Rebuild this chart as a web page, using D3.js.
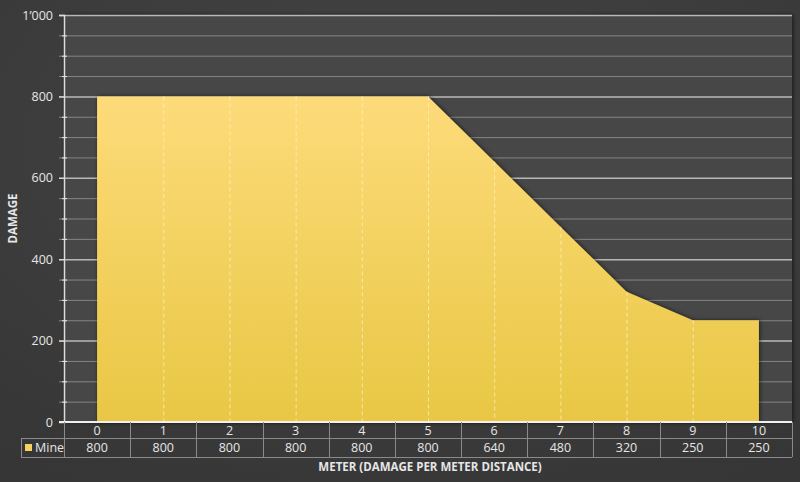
<!DOCTYPE html>
<html>
<head>
<meta charset="utf-8">
<script src="https://cdn.jsdelivr.net/npm/d3@7"></script>
<style>
body { margin: 0; background: #3c3c3c; }
svg text { font-family: "Open Sans", "Noto Sans", sans-serif; fill: #e6e6e6; }
</style>
</head>
<body>
<svg id="chart" width="800" height="482"></svg>
<script>
// chart data
var meters = ["0", "1", "2", "3", "4", "5", "6", "7", "8", "9", "10"];
var damage = [800, 800, 800, 800, 800, 800, 640, 480, 320, 250, 250];
var seriesName = "Mine";
var yTicks = [0, 200, 400, 600, 800, 1000];

var W = 800, H = 482;
var margin = { left: 64, right: 8, top: 15, bottom: 60 };
var svg = d3.select("#chart");
var defs = svg.append("defs");

// background
var bg = defs.append("radialGradient").attr("id", "bg").attr("cx", "50%").attr("cy", "30%").attr("r", "80%");
bg.append("stop").attr("offset", "0%").attr("stop-color", "#454545");
bg.append("stop").attr("offset", "100%").attr("stop-color", "#363636");
svg.append("rect").attr("width", W).attr("height", H).attr("fill", "url(#bg)");

var fillGrad = defs.append("linearGradient").attr("id", "areaFill").attr("x1", 0).attr("y1", 0).attr("x2", 0).attr("y2", 1);
fillGrad.append("stop").attr("offset", "0%").attr("stop-color", "#fddb7a");
fillGrad.append("stop").attr("offset", "100%").attr("stop-color", "#e9c744");

var shadow = defs.append("filter").attr("id", "shadow").attr("x", "-5%").attr("y", "-5%").attr("width", "110%").attr("height", "110%");
shadow.append("feDropShadow").attr("dx", 1).attr("dy", 0).attr("stdDeviation", 2)
	.attr("flood-color", "#000").attr("flood-opacity", 0.6);

var x = d3.scaleBand().domain(meters).range([margin.left, W - margin.right]);
var y = d3.scaleLinear().domain([0, 1000]).range([H - margin.bottom, margin.top]);
var xc = function(d) { return x(d) + x.bandwidth() / 2; };

// plot area
svg.append("rect").attr("x", margin.left).attr("y", margin.top)
	.attr("width", W - margin.right - margin.left).attr("height", y(0) - margin.top)
	.attr("fill", "#474747").attr("filter", "url(#shadow)");

// gridlines, minor every 50 and major every 200
var minor = d3.range(50, 1001, 50);
svg.append("g").selectAll("line").data(minor).join("line")
	.attr("x1", margin.left - 5).attr("x2", W - margin.right)
	.attr("y1", function(d) { return y(d) + 0.5; }).attr("y2", function(d) { return y(d) + 0.5; })
	.attr("stroke", function(d) { return d % 200 === 0 ? "#b8b8b8" : "#858585"; })
	.attr("stroke-width", function(d) { return d % 200 === 0 ? 1.5 : 1; });

// area
var area = d3.area().x(function(d, i) { return xc(meters[i]); })
	.y0(y(0)).y1(function(d) { return y(d); });
svg.append("path").datum(damage).attr("d", area)
	.attr("fill", "url(#areaFill)").attr("filter", "url(#shadow)");

// dashed drop lines inside area
svg.append("g").selectAll("line").data(meters.slice(1, -1)).join("line")
	.attr("x1", function(d) { return xc(d) + 0.5; }).attr("x2", function(d) { return xc(d) + 0.5; })
	.attr("y1", function(d, i) { return y(damage[i + 1]); }).attr("y2", y(0))
	.attr("stroke", "#fff3c4").attr("stroke-opacity", 0.7).attr("stroke-dasharray", "4,3");

// y axis
var yAxis = d3.axisLeft(y).tickValues(yTicks).tickSize(5).tickPadding(6)
	.tickFormat(function(d) { return d === 1000 ? "1\u2019000" : d; });
var gy = svg.append("g").attr("transform", "translate(" + margin.left + ",0)").call(yAxis);
gy.select(".domain").attr("stroke", "#dcdcdc").attr("stroke-width", 1.5);
gy.selectAll(".tick line").attr("stroke", "#dcdcdc");
gy.selectAll(".tick text").attr("font-size", 12.5).attr("fill", "#e6e6e6");
// small ticks for minor gridlines
svg.append("g").selectAll("line").data(minor.filter(function(d) { return d % 200 !== 0; })).join("line")
	.attr("x1", margin.left - 2).attr("x2", margin.left + 3)
	.attr("y1", function(d) { return y(d) + 0.5; }).attr("y2", function(d) { return y(d) + 0.5; })
	.attr("stroke", "#e6e6e6");

// x baseline
svg.append("line").attr("x1", margin.left - 5).attr("x2", W - margin.right)
	.attr("y1", y(0)).attr("y2", y(0)).attr("stroke", "#f0f0f0").attr("stroke-width", 2);

// data table
var row1 = y(0), row2 = y(0) + 16, row3 = y(0) + 35;
var tbl = svg.append("g").attr("stroke", "#8a8a8a").attr("stroke-width", 1);
var bounds = meters.map(function(d) { return x(d); }).concat([W - margin.right]);
tbl.selectAll("line.v").data(bounds).join("line").attr("class", "v")
	.attr("x1", function(d) { return Math.round(d) + 0.5; }).attr("x2", function(d) { return Math.round(d) + 0.5; })
	.attr("y1", row1).attr("y2", row3);
tbl.append("line").attr("x1", 21).attr("x2", W - margin.right).attr("y1", row2 + 0.5).attr("y2", row2 + 0.5);
tbl.append("line").attr("x1", 21).attr("x2", W - margin.right).attr("y1", row3 + 0.5).attr("y2", row3 + 0.5);
tbl.append("line").attr("x1", 21.5).attr("x2", 21.5).attr("y1", row2).attr("y2", row3);

svg.append("g").selectAll("text").data(meters).join("text")
	.attr("x", xc).attr("y", row1 + 13).attr("text-anchor", "middle")
	.attr("font-size", 12.5).text(function(d) { return d; });
svg.append("g").selectAll("text").data(damage).join("text")
	.attr("x", function(d, i) { return xc(meters[i]); }).attr("y", row2 + 14).attr("text-anchor", "middle")
	.attr("font-size", 12.5).text(function(d) { return d; });

// legend key in table
svg.append("rect").attr("x", 25).attr("y", row2 + 6).attr("width", 7).attr("height", 7).attr("fill", "#f5d35e");
svg.append("text").attr("x", 35).attr("y", row2 + 14).attr("font-size", 12.5).text(seriesName);

// axis titles
svg.append("text").attr("x", 430).attr("y", 471).attr("text-anchor", "middle")
	.attr("font-size", 11.5).attr("font-weight", "bold").text("METER (DAMAGE PER METER DISTANCE)");
svg.append("text").attr("transform", "translate(17," + ((margin.top + y(0)) / 2) + ") rotate(-90)")
	.attr("text-anchor", "middle").attr("font-size", 11.5).attr("font-weight", "bold").text("DAMAGE");
</script>
</body>
</html>
